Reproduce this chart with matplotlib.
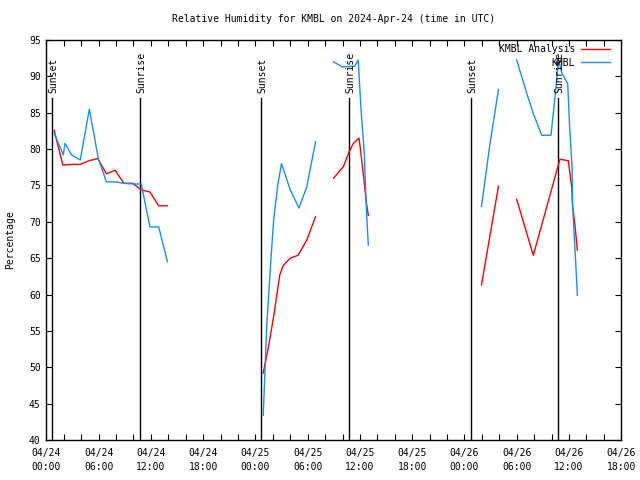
import numpy as np
import matplotlib
matplotlib.use("Agg")
import matplotlib.pyplot as plt

# hours since 2024-04-24 00:00 UTC; NaN = gap in record
ANL_HOURS = [0.9, 1.9, 2.9, 3.9, 4.9, 5.9, 6.9, 7.9, 8.9, 9.9, 10.9, 11.9, 12.9, 13.9, np.nan,
             24.9, 25.5, 26.1, 26.8, 27.2, 28.0, 28.9, 29.9, 30.9, np.nan,
             32.97, 34.1, 34.75, 35.25, 35.9, 36.2, 36.5, 36.75, 36.96, np.nan,
             49.95, 51.9, np.nan,
             53.99, 55.9, 58.77, 58.96, 59.92, 60.3, 60.4, 60.7, 60.96]
ANL_RH = [82.6, 77.8, 77.9, 77.9, 78.4, 78.7, 76.6, 77.1, 75.3, 75.3, 74.4, 74.1, 72.2, 72.2, np.nan,
          49.2, 52.8, 57.0, 62.7, 64.0, 65.0, 65.4, 67.5, 70.7, np.nan,
          76.0, 77.6, 79.6, 80.8, 81.5, 78.5, 75.3, 72.5, 70.9, np.nan,
          61.3, 74.9, np.nan,
          73.1, 65.4, 77.8, 78.6, 78.4, 74.8, 72.3, 69.3, 66.1]

OBS_HOURS = [0.9, 1.95, 2.15, 2.9, 3.9, 4.94, 5.97, 6.9, 7.9, 8.9, 9.9, 10.9, 11.9, 12.9, 13.9, np.nan,
             24.9, 25.3, 25.75, 26.1, 26.6, 27.0, 28.0, 29.0, 29.9, 30.9, np.nan,
             32.97, 34.0, 35.4, 35.8, 36.13, 36.5, 36.67, 36.77, 36.96, np.nan,
             49.95, 50.9, 51.9, np.nan,
             53.99, 55.14, 55.9, 56.86, 57.93, 58.45, 58.8, 59.2, 59.85, 60.05, 60.35, 60.42, 60.75, 60.96]
OBS_RH = [82.2, 79.2, 80.8, 79.2, 78.5, 85.5, 78.7, 75.5, 75.5, 75.3, 75.2, 75.2, 69.3, 69.3, 64.5, np.nan,
          43.4, 55.6, 64.3, 70.3, 75.3, 78.0, 74.4, 71.9, 74.8, 81.0, np.nan,
          92.0, 91.3, 91.4, 92.25, 85.4, 79.4, 73.9, 70.9, 66.8, np.nan,
          72.1, 80.5, 88.2, np.nan,
          92.25, 87.7, 84.9, 81.9, 81.9, 87.9, 92.2, 90.4, 89.0, 83.5, 77.4, 72.1, 64.75, 59.9]

SUN_HOURS = [0.63, 10.76, 24.64, 34.77, 48.7, 58.76]
SUN_LABELS = ["Sunset", "Sunrise", "Sunset", "Sunrise", "Sunset", "Sunrise"]
SUN_TOP = 87.0

XTICK_HOURS = list(range(0, 67, 6))
XTICK_LABELS = ["04/24\n00:00", "04/24\n06:00", "04/24\n12:00", "04/24\n18:00",
                "04/25\n00:00", "04/25\n06:00", "04/25\n12:00", "04/25\n18:00",
                "04/26\n00:00", "04/26\n06:00", "04/26\n12:00", "04/26\n18:00"]

FONT = "DejaVu Sans Mono"
FS = 7
RED = "#ff0000"
BLUE = "#1a8cff"

plt.rcParams["font.family"] = FONT
plt.rcParams["font.size"] = FS

fig = plt.figure(figsize=(6.4, 4.8), dpi=100)
ax = fig.add_axes([46.3 / 640, 40 / 480, 575 / 640, 400 / 480])

for h, lab in zip(SUN_HOURS, SUN_LABELS):
    ax.plot([h, h], [40, SUN_TOP], color="black", lw=1.0)
    ax.text(h + 0.15, SUN_TOP + 0.7, lab, rotation=90, ha="center", va="bottom", fontsize=FS)

ax.plot(ANL_HOURS, ANL_RH, color=RED, lw=1.0, label="KMBL Analysis")
ax.plot(OBS_HOURS, OBS_RH, color=BLUE, lw=1.0, label="KMBL")

ax.set_xlim(0, 66)
ax.set_ylim(40, 95)
ax.set_xticks(XTICK_HOURS)
ax.set_xticklabels(XTICK_LABELS, linespacing=1.4)
ax.set_xticks(range(0, 67, 2), minor=True)
ax.set_yticks(range(40, 96, 5))
ax.tick_params(which="both", direction="in", length=4, width=0.8, top=True, right=True)
ax.tick_params(axis="x", pad=6)
ax.tick_params(axis="y", pad=4)
for s in ax.spines.values():
    s.set_linewidth(1.0)

ax.set_title("Relative Humidity for KMBL on 2024-Apr-24 (time in UTC)", fontsize=FS, pad=13)
ax.set_ylabel("Percentage", fontsize=FS)
ax.yaxis.set_label_coords(-0.054, 0.5)

ax.legend(loc="upper right", bbox_to_anchor=(1 - 11 / 575, 1 - 4 / 400), frameon=False,
          markerfirst=False, handlelength=3.0, handletextpad=0.6, labelspacing=0.4,
          borderpad=0, borderaxespad=0, fontsize=FS)

fig.savefig("out.png", dpi=100)
